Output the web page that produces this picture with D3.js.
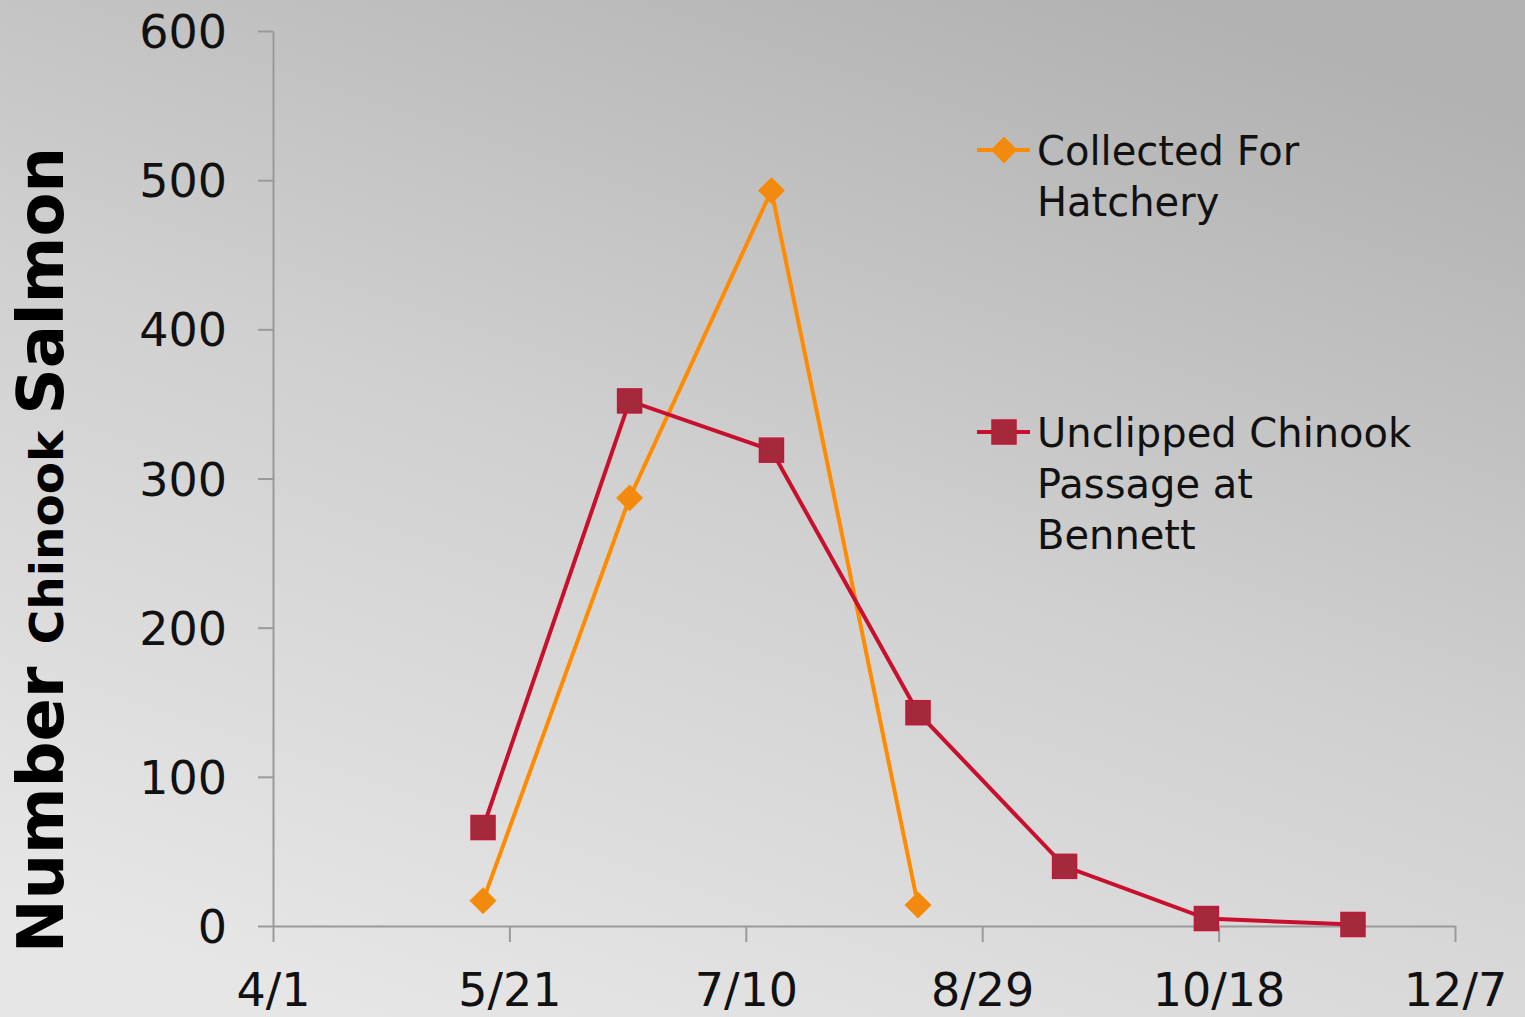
<!DOCTYPE html>
<html>
<head>
<meta charset="utf-8">
<script src="https://cdn.jsdelivr.net/npm/d3@7"></script>
<style>
  html, body { margin: 0; padding: 0; overflow: hidden; }
  svg { display: block; }
</style>
</head>
<body>
<svg id="chart" width="1525" height="1017"></svg>
<script>
// ---- data ----
const xTickLabels = ["4/1", "5/21", "7/10", "8/29", "10/18", "12/7"];
const xTickDates = ["2010-04-01", "2010-05-21", "2010-07-10", "2010-08-29", "2010-10-18", "2010-12-07"];
const yTickValues = [0, 100, 200, 300, 400, 500, 600];

const collectedDates = ["2010-05-15", "2010-06-15", "2010-07-15", "2010-08-15"];
const collectedValues = [17, 287, 493, 14];

const unclippedDates = ["2010-05-15", "2010-06-15", "2010-07-15", "2010-08-15", "2010-09-15", "2010-10-15", "2010-11-15"];
const unclippedValues = [66, 352, 319, 143, 40, 5, 1];

const seriesNames = ["Collected For|Hatchery", "Unclipped Chinook|Passage at|Bennett"];
const yTitleParts = ["Number", "Chinook", "Salmon"];

// ---- setup ----
const parse = d3.timeParse("%Y-%m-%d");
const svg = d3.select("#chart");
const W = 1525, H = 1017;

const defs = svg.append("defs");
const grad = defs.append("linearGradient").attr("id", "bg")
  .attr("x1", "0.25").attr("y1", "1").attr("x2", "0.75").attr("y2", "0");
grad.append("stop").attr("offset", "0").attr("stop-color", "#e6e6e6");
grad.append("stop").attr("offset", "0.5").attr("stop-color", "#d0d0d0");
grad.append("stop").attr("offset", "1").attr("stop-color", "#b2b2b2");
svg.append("rect").attr("width", W).attr("height", H).attr("fill", "url(#bg)");

const x = d3.scaleTime()
  .domain([parse(xTickDates[0]), parse(xTickDates[xTickDates.length - 1])])
  .range([273, 1455]);
const y = d3.scaleLinear().domain([0, 600]).range([926, 31]);

const font = "'DejaVu Sans', Verdana, sans-serif";

// y axis
const yAxis = svg.append("g").attr("transform", "translate(273,0)")
  .call(d3.axisLeft(y).tickValues(yTickValues).tickSize(15).tickSizeOuter(0).tickPadding(31).tickFormat(d3.format("d")));
// x axis
const xAxis = svg.append("g").attr("transform", "translate(0,926)")
  .call(d3.axisBottom(x).tickValues(xTickDates.map(parse)).tickSize(16).tickSizeOuter(0).tickPadding(31)
    .tickFormat((d, i) => xTickLabels[i]));

[yAxis, xAxis].forEach(g => {
  g.selectAll("path.domain").attr("stroke", "#9a9a9a").attr("stroke-width", 2);
  g.selectAll(".tick line").attr("stroke", "#9a9a9a").attr("stroke-width", 2);
  g.selectAll(".tick text").attr("fill", "#111").style("font-family", font).style("font-size", "46px");
});
yAxis.selectAll(".tick text").attr("dy", "0.36em");

// y title
const yt = svg.append("text")
  .attr("transform", "translate(63,550) rotate(-90)")
  .attr("text-anchor", "middle")
  .style("font-family", font).style("font-weight", "bold").attr("fill", "#000");
yt.append("tspan").style("font-size", "64px").text(yTitleParts[0] + " ");
yt.append("tspan").style("font-size", "47px").text(yTitleParts[1] + " ");
yt.append("tspan").style("font-size", "64px").text(yTitleParts[2]);

// series
const orange = "#ff8c00", orangeFill = "#f28a10";
const red = "#c8102e", redFill = "#a3293b";

const line = d3.line().x(d => x(d.date) + 2).y(d => y(d.v));
const collected = collectedDates.map((d, i) => ({ date: parse(d), v: collectedValues[i] }));
const unclipped = unclippedDates.map((d, i) => ({ date: parse(d), v: unclippedValues[i] }));

const diamondPath = "M0,-13L13,0L0,13L-13,0Z";

svg.append("path").datum(collected).attr("d", line)
  .attr("fill", "none").attr("stroke", orange).attr("stroke-width", 4);
svg.selectAll(".dia").data(collected).enter().append("path")
  .attr("transform", d => `translate(${x(d.date) + 2},${y(d.v)})`)
  .attr("d", diamondPath).attr("fill", orangeFill).attr("stroke", orange).attr("stroke-width", 1);

svg.append("path").datum(unclipped).attr("d", line)
  .attr("fill", "none").attr("stroke", red).attr("stroke-width", 4);
svg.selectAll(".sq").data(unclipped).enter().append("rect")
  .attr("x", d => x(d.date) + 2 - 12).attr("y", d => y(d.v) - 12)
  .attr("width", 24).attr("height", 24)
  .attr("fill", redFill).attr("stroke", "#c01838").attr("stroke-width", 1.5);

// legend
const leg = svg.append("g");
leg.append("line").attr("x1", 977).attr("x2", 1030).attr("y1", 150).attr("y2", 150)
  .attr("stroke", orange).attr("stroke-width", 4);
leg.append("path").attr("transform", "translate(1004,150)").attr("d", diamondPath)
  .attr("fill", orangeFill).attr("stroke", orange);
leg.append("line").attr("x1", 977).attr("x2", 1030).attr("y1", 432).attr("y2", 432)
  .attr("stroke", red).attr("stroke-width", 4);
leg.append("rect").attr("x", 992).attr("y", 420).attr("width", 24).attr("height", 24)
  .attr("fill", redFill).attr("stroke", "#c01838").attr("stroke-width", 1.5);

const legBase = [165, 447];
seriesNames.forEach((name, si) => {
  const t = leg.append("text").attr("x", 1037).attr("y", legBase[si])
    .style("font-family", font).style("font-size", "40px").attr("fill", "#111");
  name.split("|").forEach((ln, li) => {
    t.append("tspan").attr("x", 1037).attr("dy", li === 0 ? 0 : 51).text(ln);
  });
});
</script>
</body>
</html>
